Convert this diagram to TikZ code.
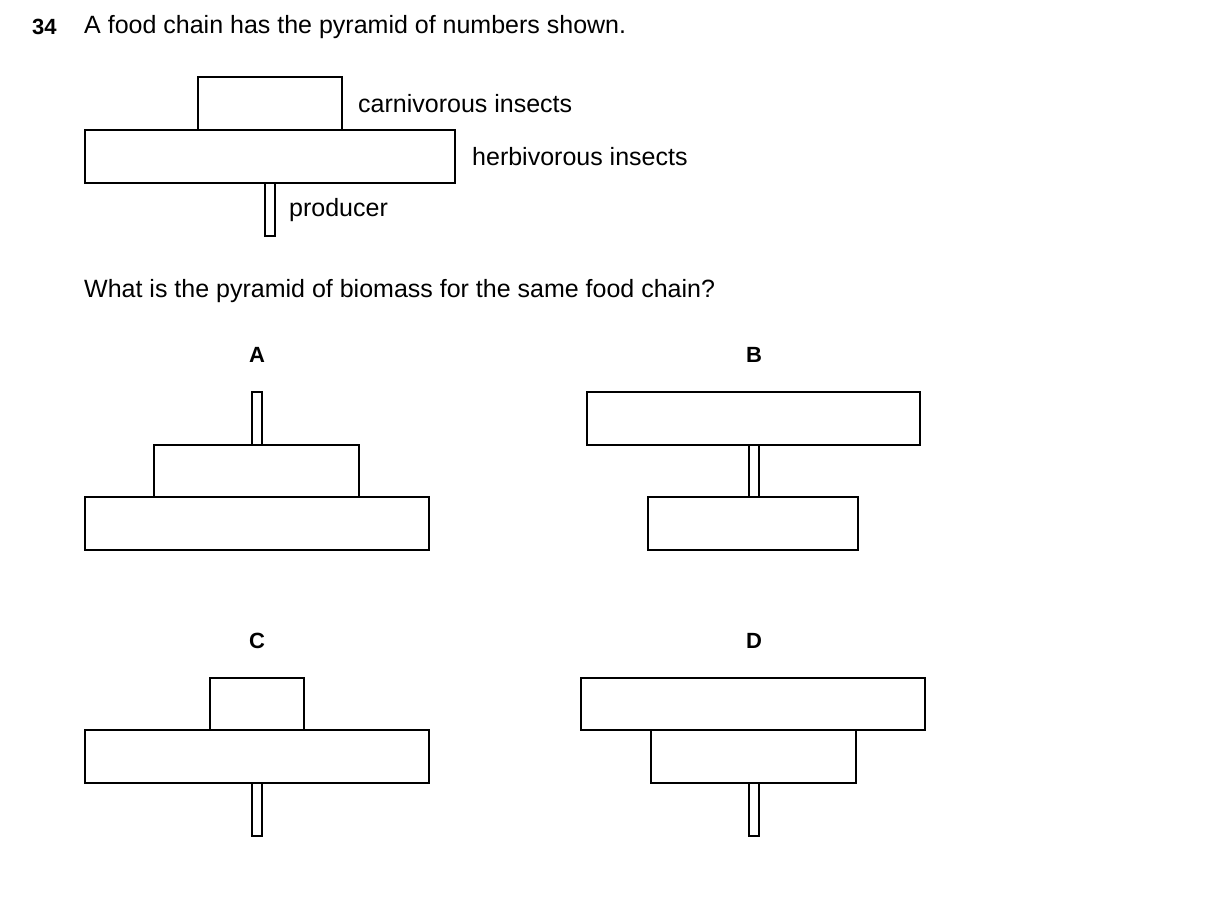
\documentclass[tikz,border=0pt]{standalone}
\usepackage{fontspec}
\setmainfont{Liberation Sans}
\begin{document}
\begin{tikzpicture}[x=1pt,y=-1pt,
  box/.style={draw,line width=1.8pt},
  txt/.style={font=\fontsize{25}{29}\selectfont,inner sep=0pt},
  lbl/.style={font=\fontsize{22}{26}\selectfont\bfseries,inner sep=0pt}]
\useasboundingbox (0,0) rectangle (1209,907);
\node[lbl,anchor=west] (num) at (32,27) {34};
\node[txt,anchor=west] (title) at (84,27) {A food chain has the pyramid of numbers shown.};
% numbers pyramid
\draw[box] (198,77) rectangle (342,130);
\draw[box] (85,130) rectangle (455,183);
\draw[box] (265,183) rectangle (275,236);
\node[txt,anchor=west] (c) at (358,104) {carnivorous insects};
\node[txt,anchor=west] (h) at (472,157) {herbivorous insects};
\node[txt,anchor=west] (p) at (289,210) {producer};
\node[txt,anchor=west] (q) at (84,291) {What is the pyramid of biomass for the same food chain?};
% A
\node[lbl] (A) at (257,355) {A};
\draw[box] (252,392) rectangle (262,445);
\draw[box] (154,445) rectangle (359,497);
\draw[box] (85,497) rectangle (429,550);
% B
\node[lbl] (B) at (754,355) {B};
\draw[box] (587,392) rectangle (920,445);
\draw[box] (749,445) rectangle (759,497);
\draw[box] (648,497) rectangle (858,550);
% C
\node[lbl] (C) at (257,641) {C};
\draw[box] (210,678) rectangle (304,730);
\draw[box] (85,730) rectangle (429,783);
\draw[box] (252,783) rectangle (262,836);
% D
\node[lbl] (D) at (754,641) {D};
\draw[box] (581,678) rectangle (925,730);
\draw[box] (651,730) rectangle (856,783);
\draw[box] (749,783) rectangle (759,836);
\end{tikzpicture}
\end{document}
